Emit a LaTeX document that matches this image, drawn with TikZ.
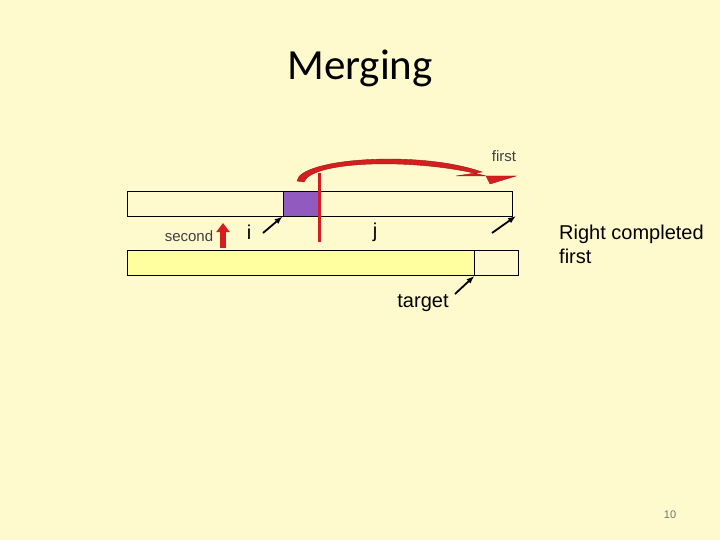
\documentclass[tikz,border=0pt]{standalone}
\usepackage{fontspec}
\setmainfont{Liberation Sans}
\newfontfamily\titlefont{Carlito}
\usetikzlibrary{arrows.meta,positioning}
\definecolor{slidebg}{RGB}{255,250,205}
\definecolor{barfill}{RGB}{255,255,160}
\definecolor{cellfill}{RGB}{145,90,190}
\definecolor{mergered}{RGB}{215,30,30}

\begin{document}
\begin{tikzpicture}[x=1pt, y=-1pt, >=Latex,
    bar/.style={draw, thick, inner sep=0pt, minimum height=25pt},
    pointer/.style={-{Latex[length=8pt,width=6pt]}, line width=1.8pt, black},
    lbl/.style={inner sep=0pt, font=\fontsize{20}{24}\selectfont}]
    \useasboundingbox[fill=slidebg] (0,0) rectangle (720,540);
    \node[font=\titlefont\fontsize{43}{50}\selectfont] (title) at (360,68) {Merging};

    % the two arrays
    \node[bar, minimum width=385pt] (topbar) at (319.5,203.5) {};
    \node[bar, fill=cellfill, minimum width=35pt] (cell) at (300.5,203.5) {};
    \node[bar, fill=barfill, minimum width=347pt] (botbar) at (300.5,263) {};
    \node[bar, minimum width=44pt, right=0pt of botbar] (spare) {};

    % split line and the move of the right part
    \coordinate (splittop) at (319,173);
    \coordinate (splitbot) at (319,242);
    \draw[mergered, line width=3pt] (splittop) -- (splitbot);
    \coordinate (movefrom) at (297,181);
    \coordinate (moveto) at (516,176);
    \fill[mergered, draw=mergered!70!black, line width=0.4pt]
      (movefrom) .. controls (300,158) and (420,150) .. (482,172)
      -- (456,176) -- (moveto) -- (490,184) -- (486,176)
      .. controls (420,158) and (312,160) .. (304,182) -- cycle;

    % labels
    \node[inner sep=0pt, font=\fontsize{15}{18}\selectfont, text=black!75] (first) at (504,156) {first};
    \node[inner sep=0pt, font=\fontsize{15}{18}\selectfont, text=black!75] (second) at (189,236) {second};
    \node[lbl] (ilbl) at (249,232) {i};
    \node[lbl] (jlbl) at (375,232) {j};
    \node[lbl] (target) at (423,303) {target};
    \node[lbl, anchor=west, align=left] (note) at (559,244) {Right completed\\first};
    \node[inner sep=0pt, font=\fontsize{11}{13}\selectfont, text=black!55] (pagenum) at (670,515) {10};

    % pointers
    \coordinate (secondtail) at (223,248);
    \coordinate (secondtip) at (223,223);
    \draw[mergered, line width=6pt, -{Triangle[length=9pt,width=13pt]}] (secondtail) -- (secondtip);
    \coordinate (itail) at (263,233);
    \draw[pointer] (itail) -- (cell.south west);
    \coordinate (endtail) at (492,233);
    \coordinate (endtip) at (516,216);
    \draw[pointer] (endtail) -- (endtip);
    \coordinate (targettail) at (455,294);
    \draw[pointer] (targettail) -- (spare.south west);
\end{tikzpicture}
\end{document}
